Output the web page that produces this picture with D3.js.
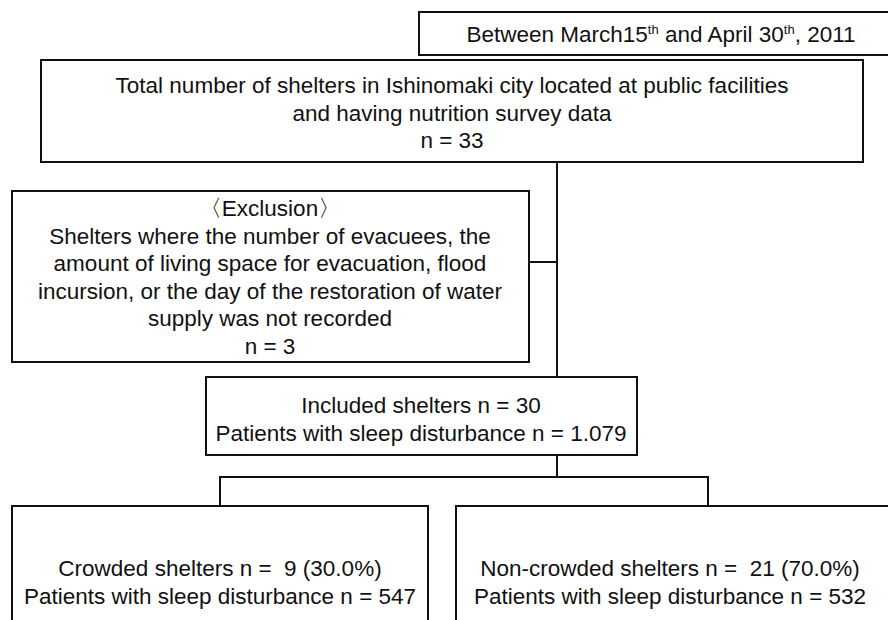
<!DOCTYPE html>
<html>
<head>
<meta charset="utf-8">
<script src="https://cdn.jsdelivr.net/npm/d3@7"></script>
<style>
  body { margin: 0; background: #fff; }
  svg { display: block; }
  .box { fill: #fff; stroke: #111; stroke-width: 2; }
  .link { fill: none; stroke: #111; stroke-width: 2; }
  text { font-family: "Liberation Sans", Arial, sans-serif; font-size: 22.5px; fill: #111; white-space: pre; }
</style>
</head>
<body>
<div id="chart"></div>
<script>
// text of each box, one line per entry
var periodText = [["Between March15", "th", " and April 30", "th", ", 2011"]];
var totalText = [
  "Total number of shelters in Ishinomaki city located at public facilities",
  "and having nutrition survey data",
  "n = 33"
];
var exclusionText = [
  "\u3008Exclusion\u3009",
  "Shelters where the number of evacuees, the",
  "amount of living space for evacuation, flood",
  "incursion, or the day of the restoration of water",
  "supply was not recorded",
  "n = 3"
];
var includedText = [
  "Included shelters n = 30",
  "Patients with sleep disturbance n = 1.079"
];
var crowdedText = [
  "Crowded shelters n =  9 (30.0%)",
  "Patients with sleep disturbance n = 547"
];
var nonCrowdedText = [
  "Non-crowded shelters n =  21 (70.0%)",
  "Patients with sleep disturbance n = 532"
];

var svgWidth = 888;
var svgHeight = 620;

var svg = d3.select("#chart")
  .append("svg")
  .attr("width", svgWidth)
  .attr("height", svgHeight);

// box layout (pixels)
var boxes = {
  period:     {x0: 419, y0: 12,  x1: 903, y1: 55,  cx: 661, lines: periodText,     first: 42,  step: 27},
  total:      {x0: 41,  y0: 60,  x1: 863, y1: 162, cx: 452, lines: totalText,      first: 93,  step: 27.5},
  exclusion:  {x0: 12,  y0: 191, x1: 529, y1: 362, cx: 270, lines: exclusionText,  first: 216, step: 27.5},
  included:   {x0: 206, y0: 377, x1: 637, y1: 455, cx: 421, lines: includedText,   first: 413, step: 27.5},
  crowded:    {x0: 12,  y0: 506, x1: 428, y1: 640, cx: 220, lines: crowdedText,    first: 576, step: 28},
  nonCrowded: {x0: 456, y0: 506, x1: 895, y1: 640, cx: 670, lines: nonCrowdedText, first: 576, step: 28}
};

// connectors
var spineX = 557;
var links = [
  [[spineX, boxes.total.y1], [spineX, boxes.included.y0]],
  [[boxes.exclusion.x1, 262], [spineX, 262]],
  [[spineX, boxes.included.y1], [spineX, 477]],
  [[220, boxes.crowded.y0], [220, 477], [708, 477], [708, boxes.nonCrowded.y0]]
];

svg.selectAll(".link")
  .data(links)
  .enter()
  .append("path")
  .attr("class", "link")
  .attr("d", d3.line());

var boxList = Object.keys(boxes).map(function(k) { return boxes[k]; });

svg.selectAll(".box")
  .data(boxList)
  .enter()
  .append("rect")
  .attr("class", "box")
  .attr("x", d => d.x0)
  .attr("y", d => d.y0)
  .attr("width", d => d.x1 - d.x0)
  .attr("height", d => d.y1 - d.y0);

boxList.forEach(function(b) {
  b.lines.forEach(function(line, i) {
    var t = svg.append("text")
      .attr("x", b.cx)
      .attr("y", b.first + i * b.step)
      .attr("text-anchor", "middle");
    if (Array.isArray(line)) {
      // pieces alternate normal / superscript
      line.forEach(function(piece, j) {
        var sp = t.append("tspan").text(piece);
        if (j % 2 === 1) {
          sp.attr("font-size", "13px").attr("dy", -8);
        } else if (j > 0) {
          sp.attr("dy", 8);
        }
      });
    } else {
      t.text(line);
    }
  });
});
</script>
</body>
</html>
